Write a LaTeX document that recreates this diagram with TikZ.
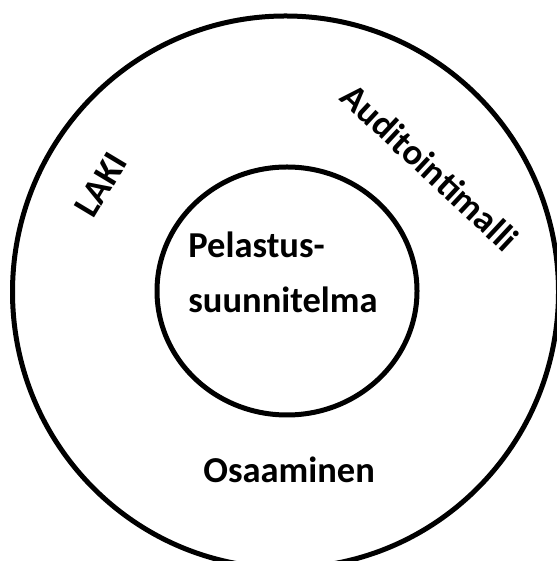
\documentclass[tikz,border=0pt]{standalone}
\usepackage{fontspec}
\setmainfont{Carlito}
\usepackage{tikz}

\begin{document}
\begin{tikzpicture}[x=0.5pt,y=0.5pt,
    ring/.style={draw=black,line width=2.5pt},
    label/.style={font=\fontsize{18.25}{27.5}\selectfont\bfseries,inner sep=0pt}]
  \path[use as bounding box] (0,0) rectangle (556,561);
  \coordinate (O) at (285.5,269);
  \coordinate (I) at (287,270);

  % Outer ring and the inner plan circle
  \draw[ring] (O) ellipse [x radius=273,y radius=276];
  \draw[ring] (I) ellipse [x radius=130,y radius=124];

  % Labels of the inner circle (base = last line)
  \node[label,anchor=base west,align=left] (plan) at (188,248)
    {Pelastus-\\suunnitelma};

  % Labels in the outer ring
  \node[label,rotate=59] (laki) at (101,376) {LAKI};
  \node[label,rotate=-43] (audit) at (430,394) {Auditointimalli};
  \node[label,anchor=base west] (osaa) at (203,78) {Osaaminen};
\end{tikzpicture}
\end{document}
